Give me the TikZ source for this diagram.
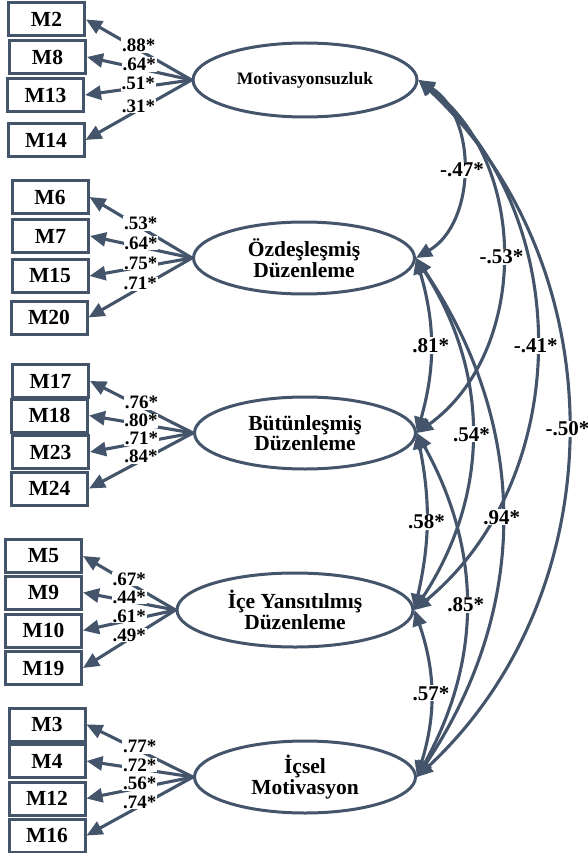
\documentclass[tikz,border=0pt]{standalone}
\usepackage{fontspec}
\setmainfont{Liberation Serif}
\usetikzlibrary{shapes.geometric,arrows.meta}
\definecolor{pathblue}{HTML}{44546A}

\begin{document}
\begin{tikzpicture}[x=1pt,y=-1pt]
	\tikzstyle{every node}=[font=\bfseries]
	\tikzstyle{item}=[draw=pathblue, line width=3pt, minimum width=76pt, minimum height=33pt, inner sep=0pt, font=\fontsize{21.5pt}{22pt}\selectfont\bfseries]
	\tikzstyle{factor}=[ellipse, draw=pathblue, line width=3pt, inner sep=0pt, align=center, minimum width=221pt, minimum height=72pt, font=\fontsize{21.5pt}{20.5pt}\selectfont\bfseries]
	\tikzstyle{load}=[draw=pathblue, line width=3.1pt, -{Triangle[length=16pt,width=14pt]}]
	\tikzstyle{cov}=[draw=pathblue, line width=3.1pt, {Triangle[length=16pt,width=14pt]}-{Triangle[length=16pt,width=14pt]}]
	\tikzstyle{coef}=[fill=white, inner sep=0.8pt, font=\fontsize{19pt}{19pt}\selectfont\bfseries]
	\tikzstyle{corr}=[fill=white, inner sep=1pt, font=\fontsize{21pt}{21pt}\selectfont\bfseries]
	\useasboundingbox (0,0) rectangle (588,853);

	% latent factors
	\node [factor, minimum width=224pt, minimum height=74pt] (mot) at (305,80) {\fontsize{17.5pt}{18pt}\selectfont Motivasyonsuzluk};
	\node [factor] (ozd) at (304,258) {Özdeşleşmiş\\Düzenleme};
	\node [factor] (but) at (305,433) {Bütünleşmiş\\Düzenleme};
	\node [factor, minimum width=236pt, minimum height=74pt] (ice) at (295,610) {İçe Yansıtılmış\\Düzenleme};
	\node [factor] (icsel) at (305,777) {İçsel\\Motivasyon};

	% observed items
	\node [item] (m2) at (46.5,19.5) {M2};
	\node [item] (m8) at (47.5,57) {M8};
	\node [item] (m13) at (45.5,95) {M13};
	\node [item] (m14) at (46,140) {M14};

	\node [item] (m6) at (50,197) {M6};
	\node [item] (m7) at (50.5,236) {M7};
	\node [item] (m15) at (50,276) {M15};
	\node [item] (m20) at (49,317.5) {M20};

	\node [item] (m17) at (50.5,381) {M17};
	\node [item] (m18) at (49.5,415.5) {M18};
	\node [item] (m23) at (50.5,452) {M23};
	\node [item] (m24) at (49.5,488.5) {M24};

	\node [item] (m5) at (43.5,556) {M5};
	\node [item] (m9) at (43.5,592.5) {M9};
	\node [item] (m10) at (43.5,630.5) {M10};
	\node [item] (m19) at (43.5,668) {M19};

	\node [item] (m3) at (47,724.5) {M3};
	\node [item] (m4) at (47,761) {M4};
	\node [item] (m12) at (47,798.5) {M12};
	\node [item] (m16) at (47,835.5) {M16};

	% loadings
	\draw [load] (mot.west) -- node [coef, yshift=4pt] {.88*} (m2.east);
	\draw [load] (mot.west) -- node [coef, yshift=4pt] {.64*} (m8.east);
	\draw [load] (mot.west) -- node [coef, yshift=4pt] {.51*} (m13.east);
	\draw [load] (mot.west) -- node [coef, yshift=4pt] {.31*} (m14.east);

	\draw [load] (ozd.west) -- node [coef, yshift=4pt] {.53*} (m6.east);
	\draw [load] (ozd.west) -- node [coef, yshift=4pt] {.64*} (m7.east);
	\draw [load] (ozd.west) -- node [coef, yshift=4pt] {.75*} (m15.east);
	\draw [load] (ozd.west) -- node [coef, yshift=4pt] {.71*} (m20.east);

	\draw [load] (but.west) -- node [coef, yshift=4.5pt] {.76*} (m17.east);
	\draw [load] (but.west) -- node [coef, yshift=3.5pt] {.80*} (m18.east);
	\draw [load] (but.west) -- node [coef, yshift=4pt] {.71*} (m23.east);
	\draw [load] (but.west) -- node [coef, yshift=4pt] {.84*} (m24.east);

	\draw [load] (ice.west) -- node [coef, yshift=4pt] {.67*} (m5.east);
	\draw [load] (ice.west) -- node [coef, yshift=4pt] {.44*} (m9.east);
	\draw [load] (ice.west) -- node [coef, yshift=4pt] {.61*} (m10.east);
	\draw [load] (ice.west) -- node [coef, yshift=4pt] {.49*} (m19.east);

	\draw [load] (icsel.west) -- node [coef, yshift=4pt] {.77*} (m3.east);
	\draw [load] (icsel.west) -- node [coef, yshift=4pt] {.72*} (m4.east);
	\draw [load] (icsel.west) -- node [coef, yshift=4pt] {.56*} (m12.east);
	\draw [load] (icsel.west) -- node [coef, yshift=4pt] {.74*} (m16.east);

	% correlations
	\draw [cov] (mot.east) to [bend left=47] node [corr] {-.50*} (icsel.east);
	\draw [cov] (mot.east) to [bend left=50] node [corr] {-.41*} (ice.east);
	\draw [cov] (mot.east) to [bend left=54] node [corr] {-.53*} (but.east);
	\draw [cov] (mot.east) to [bend left=59] node [corr] {-.47*} (ozd.east);
	\draw [cov] (ozd.east) to [bend left=34] node [corr] {.94*} (icsel.east);
	\draw [cov] (ozd.east) to [bend left=33] node [corr] {.54*} (ice.east);
	\draw [cov] (ozd.east) to [bend left=16] node [corr] {.81*} (but.east);
	\draw [cov] (but.east) to [bend left=29] node [corr] {.85*} (icsel.east);
	\draw [cov] (but.east) to [bend left=12] node [corr] {.58*} (ice.east);
	\draw [cov] (ice.east) to [bend left=18] node [corr] {.57*} (icsel.east);
\end{tikzpicture}
\end{document}
